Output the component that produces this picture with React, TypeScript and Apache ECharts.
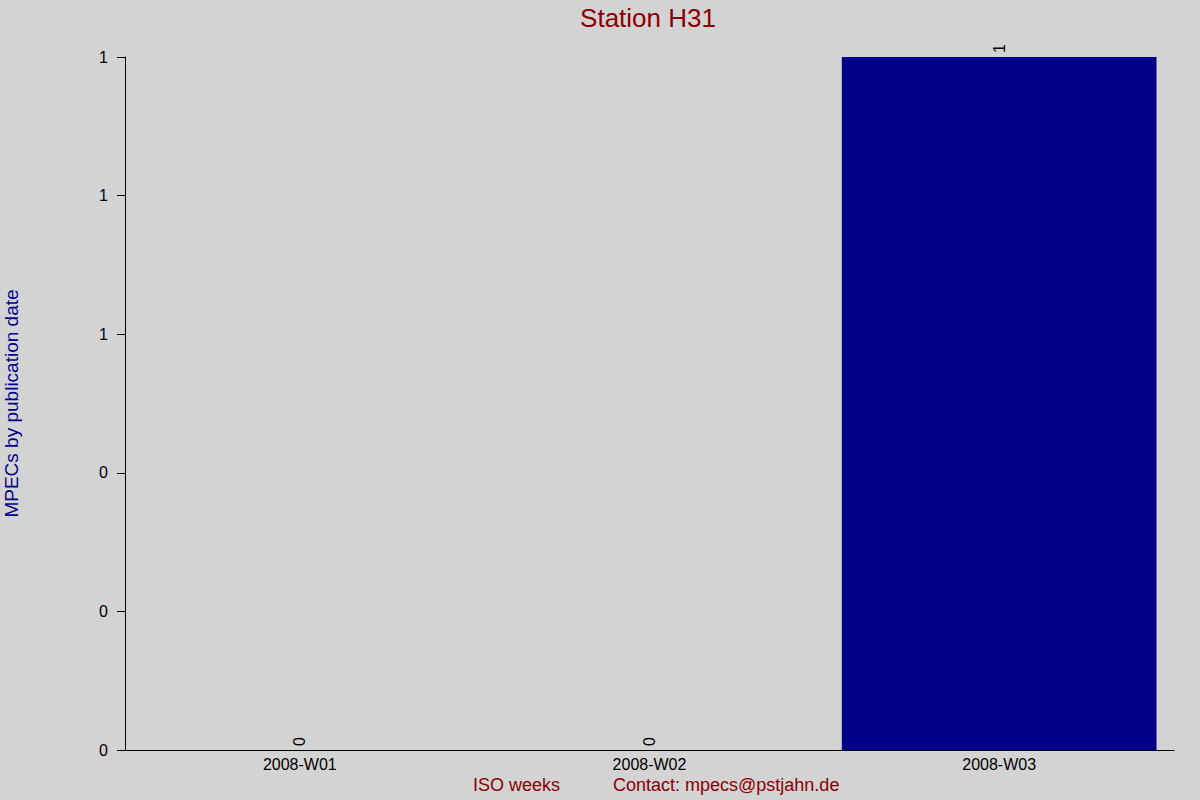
import React, { useEffect, useRef } from 'react';
import * as echarts from 'echarts';

const weeks = ['2008-W01', '2008-W02', '2008-W03'];
const mpecCounts = [0, 0, 1];

const titleText = 'Station H31';
const yAxisTitle = 'MPECs by publication date';
const xAxisTitle = 'ISO weeks';
const contactText = 'Contact: mpecs@pstjahn.de';

const App = () => {
  const chartRef = useRef<HTMLDivElement>(null);

  useEffect(() => {
    if (!chartRef.current) return;
    const chart = echarts.init(chartRef.current, null, { renderer: 'svg' });

    const font = 'Liberation Sans, Arial, sans-serif';

    chart.setOption({
      animation: false,
      backgroundColor: '#d3d3d3',
      textStyle: { fontFamily: font },
      title: {
        text: titleText,
        left: 643,
        textAlign: 'center',
        top: 0,
        textStyle: { color: '#8b0000', fontSize: 26, fontWeight: 'normal', fontFamily: font },
      },
      grid: { left: 125, right: 26, top: 57, bottom: 50, outerBoundsMode: 'none', containLabel: false },
      xAxis: {
        type: 'category',
        data: weeks,
        axisLine: { lineStyle: { color: '#000', width: 1 } },
        axisTick: { show: false },
        axisLabel: { color: '#000', fontSize: 16, margin: 6 },
      },
      yAxis: {
        type: 'value',
        min: 0,
        max: 1,
        interval: 0.2,
        name: yAxisTitle,
        nameLocation: 'middle',
        nameRotate: 90,
        nameGap: 104,
        nameTextStyle: { color: '#00008b', fontSize: 19 },
        axisLine: { show: true, lineStyle: { color: '#000', width: 1 } },
        axisTick: { show: true, length: 8, lineStyle: { color: '#000' } },
        splitLine: { show: false },
        axisLabel: {
          color: '#000',
          fontSize: 16,
          margin: 17,
          formatter: (v: number) => String(Math.round(v)),
        },
      },
      series: [
        {
          type: 'bar',
          data: mpecCounts,
          barCategoryGap: '10%',
          itemStyle: { color: '#00008b' },
          label: {
            show: true,
            position: 'top',
            rotate: 90,
            align: 'left',
            verticalAlign: 'middle',
            distance: 4,
            color: '#000',
            fontSize: 16,
          },
        },
      ],
      graphic: [
        {
          type: 'text',
          left: 473,
          top: 776,
          style: { text: xAxisTitle, fill: '#8b0000', fontSize: 18, fontFamily: font },
        },
        {
          type: 'text',
          left: 613,
          top: 776,
          style: { text: contactText, fill: '#8b0000', fontSize: 18, fontFamily: font },
        },
      ],
    });

    return () => {
      chart.dispose();
    };
  }, []);

  return (
    <div
      ref={chartRef}
      style={{ position: 'absolute', left: 0, top: 0, width: 1200, height: 800 }}
    />
  );
};

export default App;
